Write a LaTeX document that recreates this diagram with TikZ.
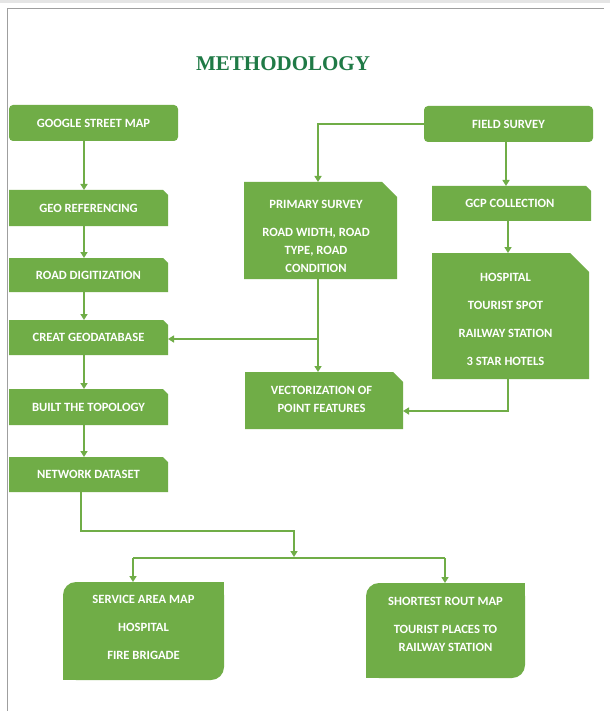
\documentclass[tikz,border=0pt]{standalone}
\usepackage{fontspec}
\setmainfont{Carlito}
\newfontfamily\titlefont{Liberation Serif}
\usetikzlibrary{arrows.meta}
\definecolor{G}{RGB}{112,173,71}
\definecolor{TG}{RGB}{31,122,70}
\begin{document}
\begin{tikzpicture}[x=1pt,y=-1pt,
  base/.style={inner sep=0pt, outer sep=0pt, text=white, font=\fontsize{12.6}{18}\selectfont\bfseries},
  txt/.style={inner sep=0pt, outer sep=0pt, text=white, align=center, font=\fontsize{12.6}{18}\selectfont\bfseries},
  rbox/.style={base, fill=G, rounded corners=4pt},
  snipbox/.style={base, path picture={\fill[G] (path picture bounding box.south west) -- (path picture bounding box.south east) -- ([yshift=-#1]path picture bounding box.north east) -- ([xshift=-#1]path picture bounding box.north east) -- (path picture bounding box.north west) -- cycle;}},
  snipbox/.default=5pt,
  tlbr/.style={base, path picture={\fill[G, rounded corners=13pt] (path picture bounding box.south west) rectangle (path picture bounding box.north east);
     \fill[G] (path picture bounding box.south west) rectangle ([xshift=15pt,yshift=15pt]path picture bounding box.south west);
     \fill[G] (path picture bounding box.north east) rectangle ([xshift=-15pt,yshift=-15pt]path picture bounding box.north east);}},
  conn/.style={draw=G, line width=1.8pt},
  arr/.style={conn, -{Triangle[length=6pt,width=7pt]}},
  titlestyle/.style={inner sep=0pt, text=TG, font=\titlefont\fontsize{21}{24}\selectfont\bfseries}
]
\useasboundingbox (0,0) rectangle (610,711);
\fill[white] (0,0) rectangle (610,711);
\fill[gray!20] (0,0) rectangle (610,3);
\draw[gray!75, line width=1pt] (7,711) -- (7,8.5) -- (604,8.5);

\node[titlestyle] (title) at (283,64) {METHODOLOGY};

% left column
\node[rbox, minimum width=169pt, minimum height=36pt] (google) at (93.5,123) {GOOGLE STREET MAP};
\node[snipbox, minimum width=159pt, minimum height=36pt] (georef) at (88.5,208) {GEO REFERENCING};
\node[snipbox, minimum width=159pt, minimum height=34pt] (roaddig) at (88.5,275) {ROAD DIGITIZATION};
\node[snipbox, minimum width=159pt, minimum height=35pt] (creat) at (88.5,337.5) {CREAT GEODATABASE};
\node[snipbox, minimum width=159pt, minimum height=36pt] (built) at (88.5,407) {BUILT THE TOPOLOGY};
\node[snipbox, minimum width=159pt, minimum height=35pt] (network) at (88.5,474.5) {NETWORK DATASET};

% right part
\node[rbox, minimum width=169pt, minimum height=36pt] (field) at (508.5,124) {FIELD SURVEY};
\node[snipbox=15pt, minimum width=153pt, minimum height=97pt] (primary) at (320.5,230.5) {};
\node[txt] (tprimary) at (316,236) {PRIMARY SURVEY\\[10pt]ROAD WIDTH, ROAD\\TYPE, ROAD\\CONDITION};
\node[snipbox, minimum width=159pt, minimum height=35pt] (gcp) at (511.5,203.5) {};
\node[txt] (tgcp) at (510,203.5) {GCP COLLECTION};
\node[snipbox=19pt, minimum width=157pt, minimum height=126pt] (hosp) at (510.5,316) {};
\node[txt] (thosp) at (505.5,319.5) {HOSPITAL\\[10pt]TOURIST SPOT\\[10pt]RAILWAY STATION\\[10pt]3 STAR HOTELS};
\node[snipbox=10pt, minimum width=158pt, minimum height=57pt] (vector) at (324,400.5) {};
\node[txt] (tvector) at (321.5,399.5) {VECTORIZATION OF\\POINT FEATURES};

% bottom
\node[tlbr, minimum width=161pt, minimum height=98pt] (service) at (143.5,631) {};
\node[txt] (tservice) at (143.5,627.5) {SERVICE AREA MAP\\[10pt]HOSPITAL\\[10pt]FIRE BRIGADE};
\node[tlbr, minimum width=159pt, minimum height=95pt] (shortest) at (445.5,630.5) {};
\node[txt] (tshortest) at (445.5,624) {SHORTEST ROUT MAP\\[10pt]TOURIST PLACES TO\\RAILWAY STATION};

% helper coordinates
\coordinate (xl) at (84,0);
\coordinate (xn) at (81,0);
\coordinate (xp) at (318,0);
\coordinate (xf) at (506,0);
\coordinate (xg) at (508,0);
\coordinate (pj) at (318,339);
\coordinate (hj) at (508,411);
\coordinate (fj) at (318,124);
\coordinate (j1) at (294,531);
\coordinate (j2) at (294,557);
\coordinate (bl) at (133,558);
\coordinate (br) at (445,558);

% left column connectors
\draw[arr] (google.south -| xl) -- (georef.north -| xl);
\draw[arr] (georef.south -| xl) -- (roaddig.north -| xl);
\draw[arr] (roaddig.south -| xl) -- (creat.north -| xl);
\draw[arr] (creat.south -| xl) -- (built.north -| xl);
\draw[arr] (built.south -| xl) -- (network.north -| xl);

% right connectors
\draw[arr] (field.west |- fj) -- (fj) -- (primary.north -| fj);
\draw[arr] (field.south -| xf) -- (gcp.north -| xf);
\draw[arr] (gcp.south -| xg) -- (hosp.north -| xg);
\draw[arr] (primary.south -| xp) -- (vector.north -| xp);
\draw[arr] (pj) -- (creat.east |- pj);
\draw[arr] (hosp.south -| hj) -- (hj) -- (vector.east |- hj);

% bottom connectors
\draw[arr] (network.south -| xn) |- (j1) -- (j2);
\draw[conn] (bl) -- (br);
\draw[arr] (bl) -- (service.north -| bl);
\draw[arr] (br) -- (shortest.north -| br);
\end{tikzpicture}
\end{document}
